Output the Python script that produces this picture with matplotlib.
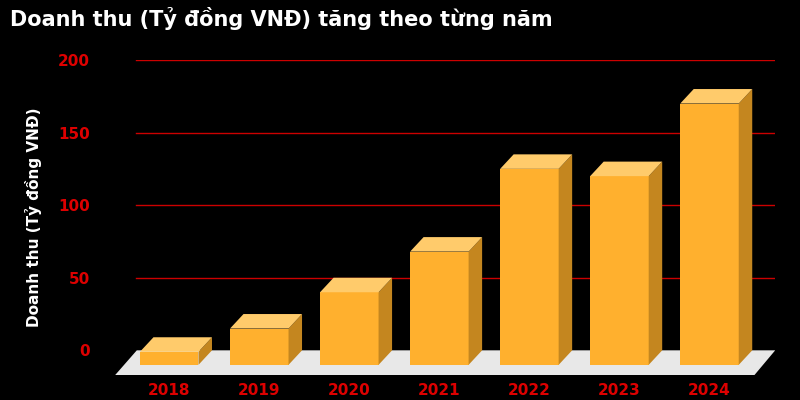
import matplotlib
matplotlib.use("Agg")
import matplotlib.pyplot as plt
from matplotlib.patches import Polygon

years = ["2018", "2019", "2020", "2021", "2022", "2023", "2024"]
revenue = [9, 25, 50, 78, 135, 130, 180]

W, DX, DY, BASE = 0.65, 0.15, 10, -10   # bar width, depth offsets, front base

fig = plt.figure(figsize=(8, 4), dpi=100, facecolor="black")
ax = fig.add_axes([0.144, 0.0625, 0.825, 0.7875], facecolor="black")
ax.set_xlim(-0.6, 6.73)
ax.set_ylim(-17, 200)

for v in range(50, 201, 50):
    ax.plot([-0.37, 6.73], [v, v], color="#cc0000", lw=1, zorder=1)

# floor
ax.add_patch(Polygon([(-0.6, -17), (-0.36, 0), (6.73, 0), (6.5, -17)],
                     closed=True, facecolor="#e8e8e8", edgecolor="none", zorder=2))

for i, v in enumerate(revenue):
    x0, x1 = i - W / 2, i + W / 2
    top = BASE + v
    ax.add_patch(Polygon([(x0, BASE), (x1, BASE), (x1, top), (x0, top)],
                         facecolor="#FFB02E", edgecolor="none", zorder=3))
    ax.add_patch(Polygon([(x1, BASE), (x1 + DX, BASE + DY), (x1 + DX, top + DY), (x1, top)],
                         facecolor="#C4861F", edgecolor="none", zorder=3))
    ax.add_patch(Polygon([(x0, top), (x1, top), (x1 + DX, top + DY), (x0 + DX, top + DY)],
                         facecolor="#FFCB6B", edgecolor="none", zorder=3))

ax.set_xticks(range(len(years)))
ax.set_xticklabels(years)
ax.set_yticks([0, 50, 100, 150, 200])
ax.tick_params(colors="#dd0000", length=0, labelsize=11)
for t in ax.get_xticklabels() + ax.get_yticklabels():
    t.set_fontweight("bold")
ax.tick_params(axis="x", pad=6)
ax.tick_params(axis="y", pad=18)
for s in ax.spines.values():
    s.set_visible(False)

ax.set_ylabel("Doanh thu (Tỷ đồng VNĐ)", color="white", fontsize=11,
              fontweight="bold", labelpad=12)
fig.text(0.012, 0.955, "Doanh thu (Tỷ đồng VNĐ) tăng theo từng năm", color="white",
         fontsize=15, fontweight="bold", va="center")

fig.savefig("out.png", dpi=100, facecolor="black")
